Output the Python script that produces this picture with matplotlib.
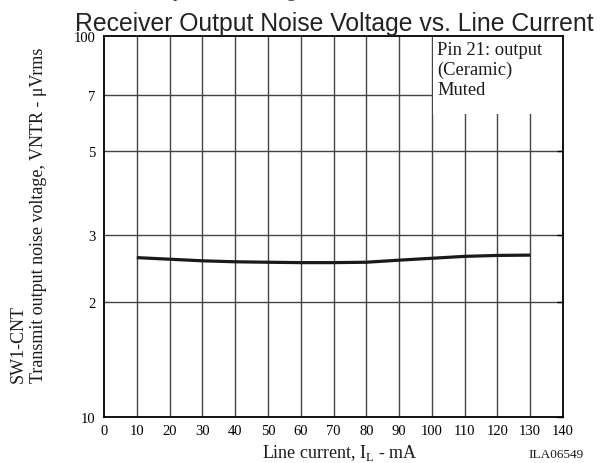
import matplotlib
matplotlib.use("Agg")
import matplotlib.pyplot as plt
from matplotlib.patches import Rectangle

# Data
current_mA = [10, 20, 30, 40, 50, 60, 70, 80, 90, 100, 110, 120, 130]
noise_uV = [2.62, 2.595, 2.57, 2.555, 2.548, 2.542, 2.542, 2.548, 2.58, 2.61, 2.64, 2.655, 2.66]
x_ticks = list(range(0, 141, 10))
y_ticks = [1, 2, 3, 5, 7, 10]
y_tick_labels = ["10", "2", "3", "5", "7", "100"]

serif = ["Liberation Serif", "DejaVu Serif"]
sans = ["Liberation Sans", "DejaVu Sans"]

W, H = 606, 464
fig = plt.figure(figsize=(W/100, H/100), dpi=100)
ax = fig.add_axes([104/W, 1-418/H, (563-104)/W, (418-37)/H])
ax.set_yscale("log")
ax.set_xlim(0, 140)
ax.set_ylim(1, 10)

# grid
for xv in x_ticks[1:-1]:
    ax.axvline(xv, color="#444444", lw=1.0, zorder=1)
for yv in y_ticks[1:-1]:
    ax.axhline(yv, color="#444444", lw=1.0, zorder=1)

# white note area
ax.add_patch(Rectangle((100.4, 6.24), 39.6, 3.76, facecolor="white", edgecolor="none", zorder=2))
ax.text(101.6, 9.72, "Pin 21: output\n(Ceramic)\nMuted", fontsize=13.3, family=serif,
        va="top", ha="left", linespacing=1.24, zorder=4, color="#1a1a1a")

ax.plot(current_mA, noise_uV, color="#1a1a1a", lw=2.3, zorder=3, solid_capstyle="butt")

ax.set_xticks(x_ticks)
ax.set_xticklabels([str(v) for v in x_ticks], fontsize=10.5, family=serif)
ax.set_yticks(y_ticks)
ax.set_yticklabels(y_tick_labels, fontsize=10.5, family=serif)
ax.minorticks_off()
ax.tick_params(axis="x", length=0, pad=5)
ax.tick_params(axis="y", length=0, pad=6)
ax.tick_params(axis="y", which="major", right=True, direction="in", length=4, width=1)
ax.tick_params(axis="y", which="major", left=False)
for s in ax.spines.values():
    s.set_linewidth(1.3)
    s.set_color("black")

# clipped caption from the previous figure (only its lowest part shows at the top edge)
fig.text(374/W, 1+3/H, "Receiver Output Noise Voltage, V$_\\mathregular{NO}$ - I$_\\mathregular{L}$",
         ha="right", va="baseline", fontsize=13, family=serif, color="#333333")
fig.text(556/W, 1-0.5/H, "ILA06547", ha="center", va="baseline", fontsize=9.5, family=serif,
         color="#333333")

fig.text(334/W, 1-31/H, "Receiver Output Noise Voltage vs. Line Current", ha="center",
         va="baseline", fontsize=17.8, family=sans, color="#222222")
fig.text(340/W, 1-458/H, "Line current, I$_\\mathregular{L}$ - mA", ha="center", va="baseline",
         fontsize=13, family=serif, color="#1a1a1a")
fig.text(556/W, 1-458/H, "ILA06549", ha="center", va="baseline", fontsize=9.5, family=serif,
         color="#1a1a1a")
fig.text(10/W, 1-383/H, "SW1-CNT\nTransmit output noise voltage, VNTR - \u03bcVrms", rotation=90,
         ha="left", va="bottom", fontsize=13, family=serif, linespacing=1.2, multialignment="left",
         color="#1a1a1a")

fig.savefig("out.png", dpi=100)
